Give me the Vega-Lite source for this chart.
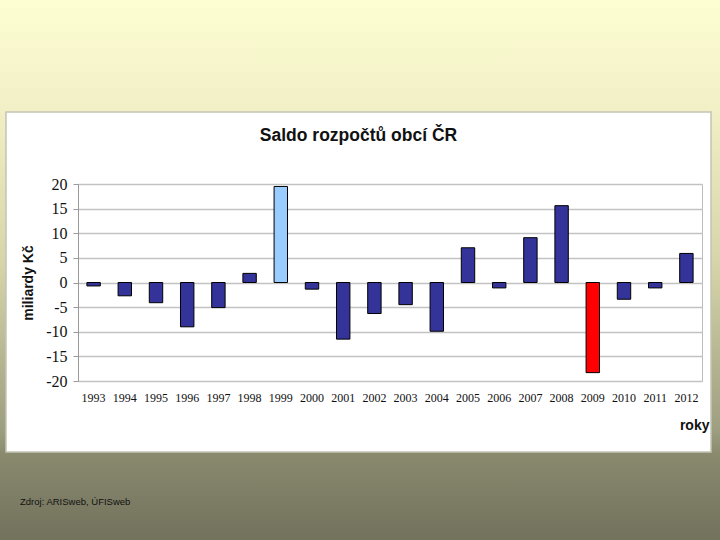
{
  "$schema": "https://vega.github.io/schema/vega-lite/v6.json",
  "width": 624,
  "height": 197,
  "autosize": {"type": "none"},
  "padding": {"left": 78, "top": 184, "right": 18, "bottom": 159},
  "background": "white",
  "config": {
    "view": {"stroke": "#bdbdbd", "strokeWidth": 1},
    "font": "Liberation Sans"
  },
  "datasets": {
    "saldo": [
      {"rok": "1993", "saldo": -0.7},
      {"rok": "1994", "saldo": -2.7},
      {"rok": "1995", "saldo": -4.1},
      {"rok": "1996", "saldo": -9.0},
      {"rok": "1997", "saldo": -5.1},
      {"rok": "1998", "saldo": 1.85},
      {"rok": "1999", "saldo": 19.5},
      {"rok": "2000", "saldo": -1.35},
      {"rok": "2001", "saldo": -11.5},
      {"rok": "2002", "saldo": -6.3},
      {"rok": "2003", "saldo": -4.5},
      {"rok": "2004", "saldo": -9.9},
      {"rok": "2005", "saldo": 7.05},
      {"rok": "2006", "saldo": -1.1},
      {"rok": "2007", "saldo": 9.1},
      {"rok": "2008", "saldo": 15.6},
      {"rok": "2009", "saldo": -18.3},
      {"rok": "2010", "saldo": -3.4},
      {"rok": "2011", "saldo": -1.1},
      {"rok": "2012", "saldo": 5.9}
    ],
    "source": [{"label": "Zdroj: ARISweb, ÚFISweb"}],
    "heading": [{"label": "Saldo rozpočtů obcí ČR"}],
    "one": [{}]
  },
  "layer": [
    {
      "data": {"name": "one"},
      "mark": {
        "type": "rect",
        "color": {"gradient": "linear", "x1": 0, "y1": 0, "x2": 0, "y2": 1,
          "stops": [{"offset": 0, "color": "#fefed3"}, {"offset": 1, "color": "#f0efc5"}]}
      },
      "encoding": {"x": {"value": -78}, "x2": {"value": 642}, "y": {"value": -184}, "y2": {"value": -72}}
    },
    {
      "data": {"name": "one"},
      "mark": {
        "type": "rect",
        "color": {"gradient": "linear", "x1": 0, "y1": 0, "x2": 0, "y2": 1,
          "stops": [{"offset": 0, "color": "#f0efc5"}, {"offset": 0.435, "color": "#d7d6aa"}, {"offset": 0.935, "color": "#9e9e81"}, {"offset": 1, "color": "#8c8c71"}]}
      },
      "encoding": {"x": {"value": -78}, "x2": {"value": -72}, "y": {"value": -72}, "y2": {"value": 268}}
    },
    {
      "data": {"name": "one"},
      "mark": {
        "type": "rect",
        "color": {"gradient": "linear", "x1": 0, "y1": 0, "x2": 0, "y2": 1,
          "stops": [{"offset": 0, "color": "#f0efc5"}, {"offset": 0.435, "color": "#d7d6aa"}, {"offset": 0.935, "color": "#9e9e81"}, {"offset": 1, "color": "#8c8c71"}]}
      },
      "encoding": {"x": {"value": 633}, "x2": {"value": 642}, "y": {"value": -72}, "y2": {"value": 268}}
    },
    {
      "data": {"name": "one"},
      "mark": {
        "type": "rect",
        "color": {"gradient": "linear", "x1": 0, "y1": 0, "x2": 0, "y2": 1,
          "stops": [{"offset": 0, "color": "#8a8a6f"}, {"offset": 1, "color": "#72725d"}]}
      },
      "encoding": {"x": {"value": -78}, "x2": {"value": 642}, "y": {"value": 268}, "y2": {"value": 356}}
    },
    {
      "data": {"name": "one"},
      "mark": {"type": "rect", "filled": false, "stroke": "#c4c4b4", "strokeWidth": 1.5},
      "encoding": {"x": {"value": -72}, "x2": {"value": 633}, "y": {"value": -72}, "y2": {"value": 268}}
    },
    {
      "data": {"name": "saldo"},
      "mark": {"type": "bar", "stroke": "#000000", "strokeWidth": 1},
      "encoding": {
        "x": {
          "field": "rok", "type": "ordinal", "sort": null,
          "scale": {"paddingInner": 0.57, "paddingOuter": 0.285},
          "axis": {
            "title": "roky",
            "titleFont": "Liberation Sans", "titleFontSize": 14, "titleFontWeight": "bold", "titleColor": "#111111",
            "titleX": 631, "titleY": 44, "titleAlign": "right", "titleBaseline": "middle", "titleAngle": 0,
            "labelAngle": 0, "labelFont": "Liberation Serif", "labelFontSize": 12, "labelColor": "#111111",
            "labelPadding": 11, "labelBaseline": "top", "labelOverlap": false,
            "ticks": false, "domain": false, "grid": false
          }
        },
        "y": {
          "field": "saldo", "type": "quantitative",
          "scale": {"domain": [-20, 20], "nice": false, "zero": false},
          "axis": {
            "title": "miliardy Kč",
            "titleFont": "Liberation Sans", "titleFontSize": 14, "titleFontWeight": "bold", "titleColor": "#111111",
            "titleX": -50, "titleY": 98.5, "titleAlign": "center", "titleBaseline": "middle", "titleAngle": -90,
            "tickCount": 9,
            "values": [-20, -15, -10, -5, 0, 5, 10, 15, 20],
            "labelExpr": "datum.value < 0 ? '-' + abs(datum.value) : '' + datum.value",
            "labelOverlap": false,
            "labelFont": "Liberation Serif", "labelFontSize": 16, "labelColor": "#111111", "labelPadding": 6,
            "tickSize": 5, "tickColor": "#9a9a9a", "domainColor": "#9a9a9a",
            "grid": true, "gridColor": "#c2c2c2", "gridWidth": 1.3
          }
        },
        "color": {
          "condition": [
            {"test": "datum.rok === '1999'", "value": "#99ccff"},
            {"test": "datum.rok === '2009'", "value": "#ff0000"}
          ],
          "value": "#333399"
        }
      }
    },
    {
      "data": {"name": "heading"},
      "mark": {"type": "text", "align": "center", "baseline": "alphabetic", "font": "Liberation Sans", "fontSize": 17.5, "fontWeight": "bold", "color": "#111111"},
      "encoding": {"text": {"field": "label"}, "x": {"value": 280.5}, "y": {"value": -43}}
    },
    {
      "data": {"name": "source"},
      "mark": {"type": "text", "align": "left", "baseline": "middle", "font": "Liberation Sans", "fontSize": 9.5, "color": "#111111"},
      "encoding": {"text": {"field": "label"}, "x": {"value": -58}, "y": {"value": 317.5}}
    }
  ]
}
